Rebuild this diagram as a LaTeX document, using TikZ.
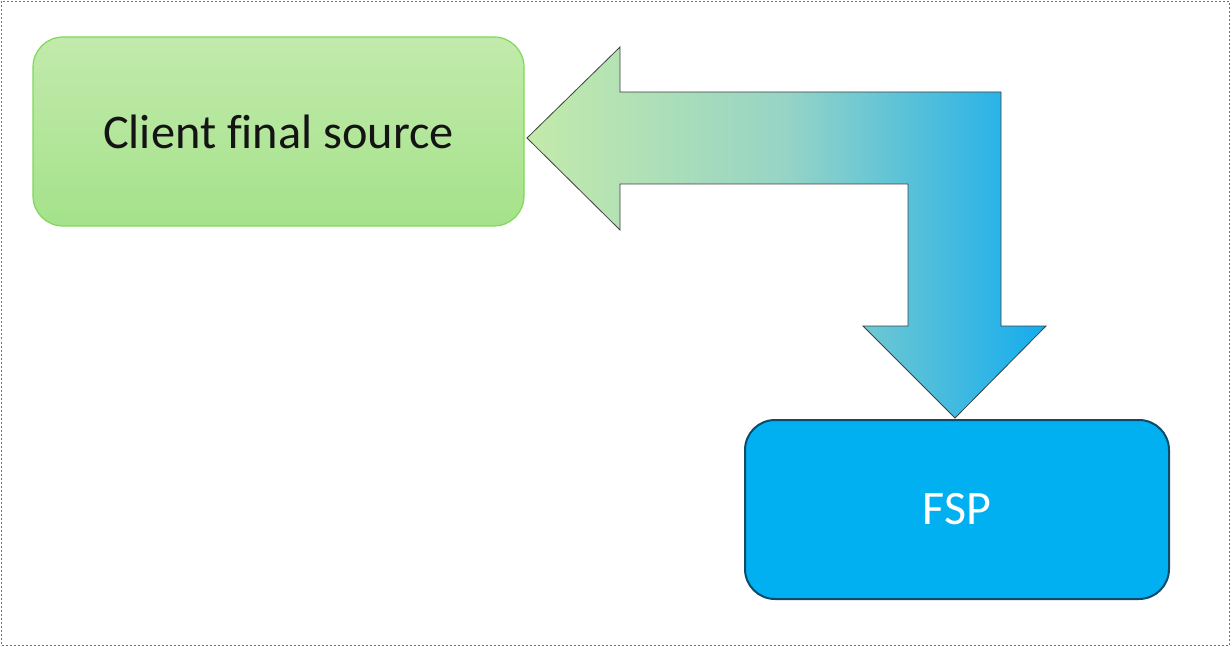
\documentclass[tikz,border=0pt]{standalone}
\usepackage{fontspec}
\setmainfont[Ligatures=NoCommon]{Carlito}
\definecolor{gtop}{HTML}{C2EAAC}
\definecolor{gbot}{HTML}{A5E28A}
\definecolor{gedge}{HTML}{7ED957}
\definecolor{bfill}{HTML}{00B0F0}
\definecolor{bedge}{HTML}{0E4A6A}
\definecolor{aleft}{HTML}{C4EAAA}
\definecolor{amid}{HTML}{96D4C6}
\definecolor{aright}{HTML}{14ACEE}
\tikzset{
  greenbox/.style={rounded corners=30pt, draw=gedge, line width=1.2pt, top color=gtop, bottom color=gbot,
    minimum width=491pt, minimum height=189pt, inner sep=0pt, font=\fontsize{48.3}{56}\selectfont, text=black!92},
  bluebox/.style={rounded corners=30pt, draw=bedge, line width=2pt, fill=bfill,
    minimum width=424pt, minimum height=179pt, inner sep=0pt, font=\fontsize{48}{56}\selectfont, text=white},
  bigarrow/.style={draw=black!75, line width=0.8pt, left color=aleft, right color=aright, middle color=amid},
  frame/.style={draw=black!55, dashed, line width=0.8pt, dash pattern=on 2pt off 2pt}
}
\begin{document}
\begin{tikzpicture}[x=1pt,y=-1pt]
\useasboundingbox (0,0) rectangle (1232,647);
\draw[frame] (1.5,1.5) rectangle (1229.5,645);
\node[greenbox] (client) at (278.5,131.5) {Client final source};
\node[bluebox] (fsp) at (957,509.5) {FSP};
\coordinate (ltip) at (527,138);
\coordinate (dtip) at (955,418);
\path[bigarrow] (ltip) -- (620,47) -- (620,92) -- (1001,92) -- (1001,326) -- (1046,326) -- (dtip)
  -- (863,326) -- (908,326) -- (908,184) -- (620,184) -- (620,230) -- cycle;
\end{tikzpicture}
\end{document}
